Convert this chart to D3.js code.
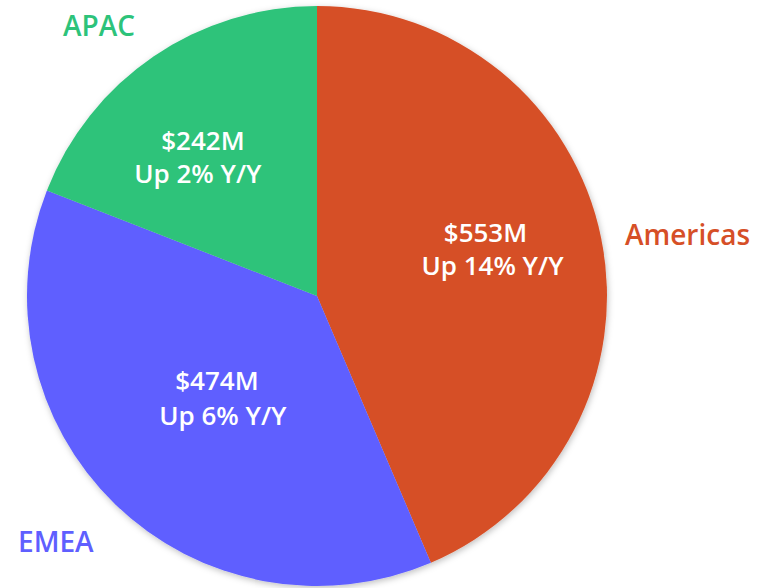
<!DOCTYPE html>
<html>
<head>
<meta charset="utf-8">
<script src="https://cdn.jsdelivr.net/npm/d3@7"></script>
<style>
  body { margin: 0; background: #fff; }
  text { font-family: "Open Sans", "Noto Sans", sans-serif; }
</style>
</head>
<body>
<div id="chart"></div>
<script>
// data
const regions = ["Americas", "EMEA", "APAC"];
const revenue = [553, 474, 242];          // $M
const growth = [14, 6, 2];                // % Y/Y

const colors = ["#d64f27", "#5f5fff", "#2dc37a"];

const width = 759, height = 588;
const cx = 317, cy = 296, radius = 290;

const svg = d3.select("#chart").append("svg")
    .attr("width", width)
    .attr("height", height);

// soft shadow behind the pie
const defs = svg.append("defs");
defs.append("filter")
    .attr("id", "shadow")
    .attr("x", "-10%").attr("y", "-10%")
    .attr("width", "120%").attr("height", "120%")
    .append("feDropShadow")
    .attr("dx", 1).attr("dy", 2)
    .attr("stdDeviation", 3)
    .attr("flood-color", "#000")
    .attr("flood-opacity", 0.25);

const data = regions.map((r, i) => ({ region: r, value: revenue[i], growth: growth[i], color: colors[i] }));

const pie = d3.pie().sort(null).value(d => d.value);
const arc = d3.arc().innerRadius(0).outerRadius(radius);
const labelArc = d3.arc().innerRadius(0).outerRadius(radius * 1.2);

const g = svg.append("g").attr("transform", `translate(${cx},${cy})`);

const arcs = pie(data);

g.append("g")
    .attr("filter", "url(#shadow)")
    .selectAll("path")
    .data(arcs)
    .join("path")
    .attr("d", arc)
    .attr("fill", d => d.data.color);

// small nudges (from the centroid) so the value labels sit where the original has them
const nudge = {
    Americas: [[-2, -19], [5, 14]],
    EMEA: [[21, -31], [27, 4]],
    APAC: [[-16, -2], [-21, 31]]
};

const valueLabels = g.append("g").selectAll("g")
    .data(arcs)
    .join("g")
    .attr("transform", d => `translate(${labelArc.centroid(d)})`);

valueLabels.append("text")
    .attr("x", d => nudge[d.data.region][0][0])
    .attr("y", d => nudge[d.data.region][0][1])
    .attr("text-anchor", "middle")
    .attr("fill", "#fff")
    .attr("font-size", 26)
    .attr("font-weight", 600)
    .text(d => `$${d.data.value}M`);

valueLabels.append("text")
    .attr("x", d => nudge[d.data.region][1][0])
    .attr("y", d => nudge[d.data.region][1][1])
    .attr("text-anchor", "middle")
    .attr("fill", "#fff")
    .attr("font-size", 26)
    .attr("font-weight", 600)
    .text(d => `Up ${d.data.growth}% Y/Y`);

// region names outside the pie
const namePos = {
    Americas: [625, 245],
    EMEA: [18, 552],
    APAC: [63, 36]
};

svg.append("g").selectAll("text")
    .data(data)
    .join("text")
    .attr("x", d => namePos[d.region][0])
    .attr("y", d => namePos[d.region][1])
    .attr("fill", d => d.color)
    .attr("font-size", 28)
    .attr("font-weight", 600)
    .text(d => d.region);
</script>
</body>
</html>
